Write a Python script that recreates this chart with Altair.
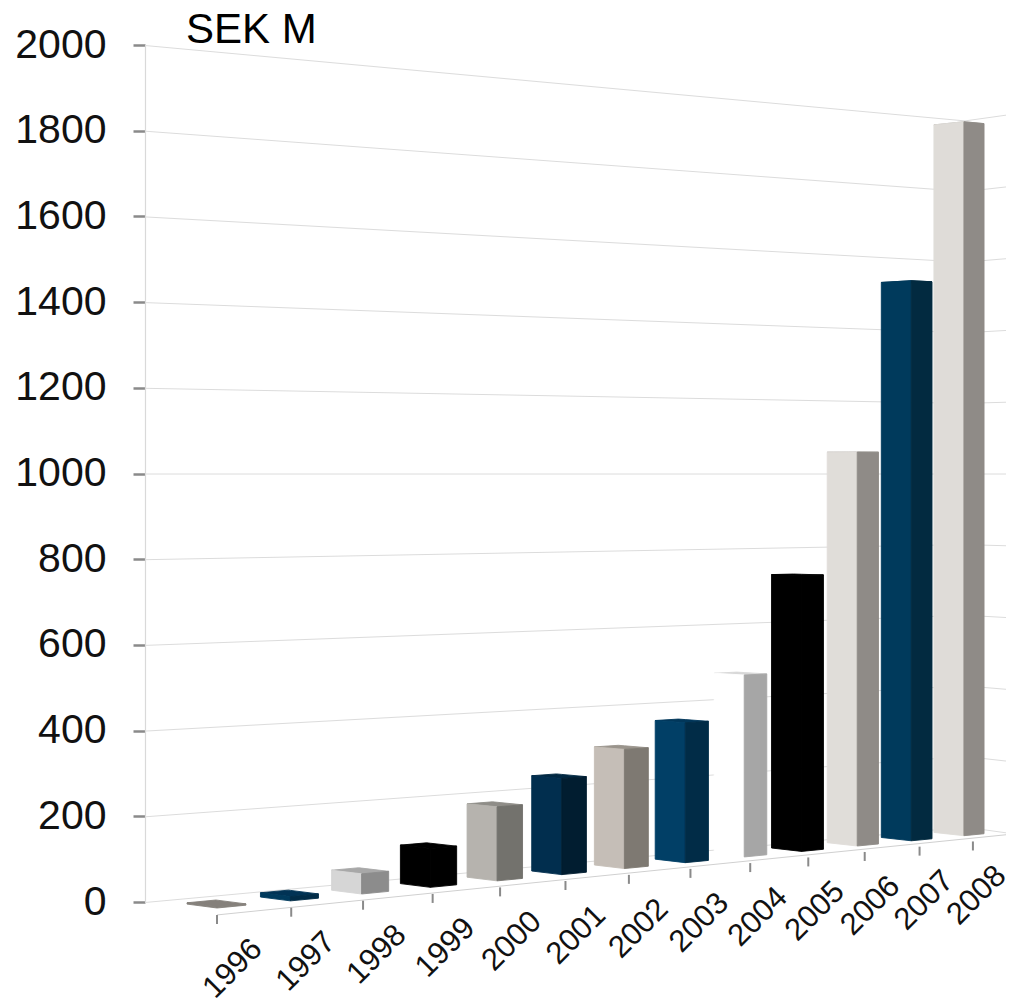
import altair as alt
import pandas as pd

years = [1996, 1997, 1998, 1999, 2000, 2001, 2002, 2003, 2004, 2005, 2006, 2007, 2008]
values = [3, 10, 48, 94, 182, 240, 302, 360, 475, 731, 1059, 1527, 1974]
front_colors = ["#85807b", "#003a5c", "#d6d6d6", "#000000", "#b6b3ae", "#012e4e", "#c5beb7",
                "#013f66", "#ffffff", "#000000", "#e0ddd9", "#003a5c", "#dfdcd8"]
side_colors = ["#85807b", "#012c47", "#8c8c8c", "#000000", "#73726d", "#011d30", "#7e7972",
               "#012c47", "#a6a6a6", "#000000", "#8f8b87", "#022a40", "#8f8b87"]
top_colors = ["#85807b", "#013355", "#a8a8a8", "#000000", "#8f8d88", "#012842", "#9a948c",
              "#01375a", "#d8d8d8", "#000000", "#b8b4b0", "#012f4c", "#b8b4b0"]
grid_levels = list(range(0, 2001, 200))

# Perspective projection of the 3D scene on to the picture plane
VX, VY = 4700.0, 474.0
SPAN, K = 4483.0, 0.01666
S0 = 1.0128
UNIT = 0.4285
LEFT, BASE = 145.0, 902.0
BAR_DEPTH, LAT_DX, LAT_E = 0.39, 30.0, 0.009
PLOT_W, PLOT_H = 861, 857


def persp(d):
    return 1.0 / (1.0 + K * d)


def project(d, lat, v):
    s = persp(d)
    x = VX - SPAN * s - LAT_DX * lat
    y = VY + (1000 - v) * UNIT * S0 * s * (1 - LAT_E * lat)
    return x, y


def dx(px):
    return px - LEFT


def dy(py):
    return (BASE - py) / UNIT


def polygon_rows(pts, face, color):
    xs = sorted({round(p[0], 3) for p in pts})
    rows = []
    n = len(pts)
    for x in xs:
        ys = []
        for a in range(n):
            x1, y1 = pts[a]
            x2, y2 = pts[(a + 1) % n]
            lo, hi = min(x1, x2), max(x1, x2)
            if lo - 1e-2 <= x <= hi + 1e-2:
                if abs(x2 - x1) < 1e-6:
                    ys += [y1, y2]
                else:
                    ys.append(y1 + (y2 - y1) * (x - x1) / (x2 - x1))
        rows.append(dict(px=dx(x), top=dy(min(ys)), bottom=dy(max(ys)),
                         face=face, fill=color))
    return rows


face_rows = []
tick_rows = []
label_rows = []
for i, (yr, v) in enumerate(zip(years, values)):
    m0, m1 = project(i, 0, 0), project(i, 0, v)
    l0, l1 = project(i, 1, 0), project(i, 1, v)
    r0, r1 = project(i + BAR_DEPTH, 0, 0), project(i + BAR_DEPTH, 0, v)
    b1 = project(i + BAR_DEPTH, 1, v)
    face_rows += polygon_rows([l1, m1, r1, b1], f"{yr}-top", top_colors[i])
    face_rows += polygon_rows([l1, m1, m0, l0], f"{yr}-front", front_colors[i])
    face_rows += polygon_rows([m1, r1, r0, m0], f"{yr}-side", side_colors[i])

    tx = m0[0] + 0.75 * i
    ty = VY + 1000 * UNIT * S0 * persp(i) * 1.016
    tick_rows.append(dict(px=dx(tx), y1=dy(ty), y2=dy(ty + 9)))
    label_rows.append(dict(px=dx(tx + 16 - 1.0 * i), py=dy(ty + 54), year=str(yr)))

wall_rows = []
for lv in grid_levels:
    y_wall = VY + (1000 - lv) * UNIT
    y_corner = VY + (1000 - lv) * UNIT * 0.824
    y_right = VY + (1000 - lv) * UNIT * 0.84
    for name, px, py in (("a", LEFT, y_wall), ("b", 965, y_corner), ("c", 1014, y_right)):
        wall_rows.append(dict(level=lv, seg=name, px=dx(px), py=dy(py)))

first_tick_y = tick_rows[0]["y1"]
floor_rows = [
    dict(px=tick_rows[0]["px"], py=first_tick_y),
    dict(px=dx(1014), py=dy(VY + 1000 * UNIT * 0.84)),
]

x_scale = alt.Scale(domain=[0, PLOT_W], nice=False, zero=False)
y_scale = alt.Scale(domain=[0, 2000], nice=False, zero=False)
X = alt.X("px:Q", scale=x_scale, axis=None)
y_axis = alt.Axis(
    values=grid_levels, title=None, grid=False,
    labelFont="Liberation Sans", labelFontSize=41, labelColor="#111111",
    labelPadding=27, tickSize=12, tickWidth=2.5, tickColor="#8a8a8a",
    domainColor="#d9d9d9", domainWidth=1.2, format="d",
)

walls = (
    alt.Chart(pd.DataFrame(wall_rows))
    .mark_line(color="#dcdcdc", strokeWidth=1)
    .encode(x=X, y=alt.Y("py:Q", scale=y_scale, axis=y_axis), detail="level:N")
)

floor_front = (
    alt.Chart(pd.DataFrame(floor_rows))
    .mark_line(color="#d0d0d0", strokeWidth=1)
    .encode(x=X, y=alt.Y("py:Q", scale=y_scale, axis=y_axis))
)

bars = (
    alt.Chart(pd.DataFrame(face_rows))
    .mark_area(strokeWidth=0.9, interpolate="linear", orient="vertical")
    .encode(
        x=X,
        y=alt.Y("top:Q", scale=y_scale, axis=y_axis),
        y2="bottom:Q",
        color=alt.Color("fill:N", scale=None),
        stroke=alt.Stroke("fill:N", scale=None),
        detail="face:N",
    )
)

ticks = (
    alt.Chart(pd.DataFrame(tick_rows))
    .mark_rule(color="#8a8a8a", strokeWidth=2)
    .encode(x=X, y=alt.Y("y1:Q", scale=y_scale, axis=y_axis), y2="y2:Q")
)

labels = (
    alt.Chart(pd.DataFrame(label_rows))
    .mark_text(font="Liberation Sans", fontSize=31, angle=315, align="center",
               baseline="middle", color="#111111")
    .encode(x=X, y=alt.Y("py:Q", scale=y_scale, axis=y_axis), text="year:N")
)

unit_label = (
    alt.Chart(pd.DataFrame({"t": ["SEK M"]}))
    .mark_text(font="Liberation Sans", fontSize=42, align="left", baseline="alphabetic", color="#000000")
    .encode(x=alt.value(41), y=alt.value(-2), text="t:N")
)

chart = (
    alt.layer(walls, floor_front, bars, ticks, labels, unit_label)
    .properties(
        width=PLOT_W, height=PLOT_H,
        background="#ffffff",
        autosize=alt.AutoSizeParams(type="none"),
        padding={"left": 137, "top": 37, "right": 0, "bottom": 96},
    )
    .configure_view(stroke=None)
)

chart.save("out.html", embed_options={"renderer": "svg", "actions": False})
